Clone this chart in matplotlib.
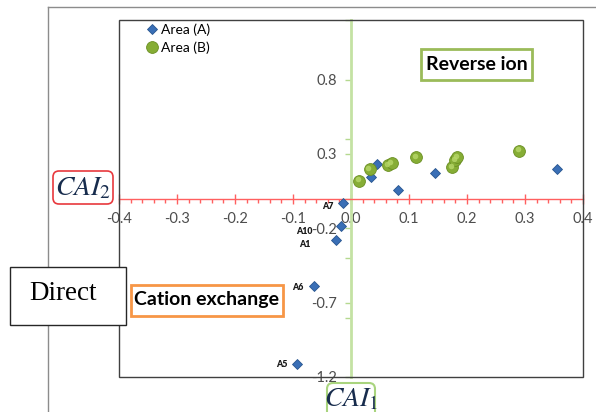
import numpy as np
import matplotlib
matplotlib.use("Agg")
import matplotlib.pyplot as plt
from matplotlib.patches import Rectangle, FancyBboxPatch
from matplotlib.lines import Line2D
from matplotlib.transforms import IdentityTransform, offset_copy
from matplotlib.ticker import MultipleLocator, FixedLocator

plt.rcParams['axes.unicode_minus'] = False
plt.rcParams['mathtext.fontset'] = 'stix'

# CAI indices, area A (samples A1..A10)
a_names = ['A1', 'A2', 'A3', 'A4', 'A5', 'A6', 'A7', 'A8', 'A9', 'A10']
a_cai1 = [-0.026, 0.044, 0.034, 0.081, -0.093, -0.064, -0.013, 0.144, 0.356, -0.017]
a_cai2 = [-0.28, 0.233, 0.144, 0.057, -1.11, -0.59, -0.03, 0.169, 0.20, -0.187]
a_shown = ['A1', 'A5', 'A6', 'A7', 'A10']

# CAI indices, area B
b_cai1 = [0.014, 0.032, 0.064, 0.070, 0.112, 0.174, 0.180, 0.183, 0.290]
b_cai2 = [0.120, 0.200, 0.222, 0.240, 0.280, 0.209, 0.257, 0.277, 0.322]

x_ticks = [-0.4, -0.3, -0.2, -0.1, 0.0, 0.1, 0.2, 0.3, 0.4]
x_ticklabels = ['-0.4', '-0.3', '-0.2', '-0.1', '0.0', '0.1', '0.2', '0.3', '0.4']
y_ticks = [-1.2, -0.7, -0.2, 0.3, 0.8]
y_ticklabels = ['-1.2', '-0.7', '-0.2', '0.3', '0.8']

W, H = 596, 412
fig = plt.figure(figsize=(W / 100, H / 100), dpi=100)
ax = fig.add_axes([119 / W, 1 - 377 / H, 464 / W, 357 / H])

px = IdentityTransform()


def py(y):
    # pixel rows counted from the top
    return H - y


# outer chart frame
fig.add_artist(Line2D([48, 48], [py(7), 0], transform=px, color='#8c8c8c', lw=1))
fig.add_artist(Line2D([48, W], [py(7), py(7)], transform=px, color='#8c8c8c', lw=1))

ax.set_xlim(-0.4, 0.4)
ax.set_ylim(-1.2, 1.2)

# axes crossing at zero
for s in ['top', 'right']:
    ax.spines[s].set_visible(False)
ax.spines['left'].set_position(('data', 0))
ax.spines['bottom'].set_position(('data', 0))
ax.spines['left'].set_color('#c4e2a4')
ax.spines['left'].set_linewidth(2)
ax.spines['bottom'].set_color('#ff6060')
ax.spines['bottom'].set_linewidth(1)
ax.add_patch(Rectangle((0, 0), 1, 1, transform=ax.transAxes, fill=False,
                       ec='#404040', lw=1, zorder=3, clip_on=False))

ax.xaxis.set_major_locator(FixedLocator(x_ticks))
ax.set_xticklabels(x_ticklabels)
ax.xaxis.set_minor_locator(MultipleLocator(0.02))
ax.yaxis.set_major_locator(FixedLocator(y_ticks))
ax.set_yticklabels(y_ticklabels)
ax.yaxis.set_minor_locator(MultipleLocator(0.4))

ax.tick_params(axis='x', which='major', direction='inout', length=7, width=1,
               color='#ff6060', labelsize=10.5, labelcolor='#4d4d4d', pad=6)
ax.tick_params(axis='x', which='minor', direction='out', length=3, width=1, color='#ff6060')
ax.tick_params(axis='y', which='both', direction='out', length=4, width=1,
               color='#b5d98f', labelsize=10.5, labelcolor='#4d4d4d', pad=6)
for lab in ax.get_xticklabels() + ax.get_yticklabels():
    lab.set_fontfamily('Lato')

# data
ax.plot(a_cai1, a_cai2, ls='none', marker='D', ms=5.6, mfc='#3a6fb6', mec='#28558f',
        mew=0.6, zorder=6, label='Area (A)')
ax.plot(b_cai1, b_cai2, ls='none', marker='o', ms=8.5, mfc='#86ad35', mec='#6a8f22',
        mew=0.6, zorder=6, label='Area (B)')
hl = offset_copy(ax.transData, fig=fig, x=-1.2, y=1.2, units='dots')
ax.plot(b_cai1, b_cai2, ls='none', marker='o', ms=4, mfc='#b8d86a', mec='none',
        alpha=0.8, zorder=7, transform=hl)

label_offsets = {'A1': (-25, -4), 'A5': (-10, -1), 'A6': (-10, -1),
                 'A7': (-10, -4), 'A10': (-29, -5)}
for name, x, y in zip(a_names, a_cai1, a_cai2):
    if name in a_shown:
        ax.annotate(name, (x, y), xytext=label_offsets[name], textcoords='offset pixels',
                    ha='right', va='center', fontsize=6.3, fontweight='heavy',
                    fontfamily='Lato', color='#1a1a1a', zorder=8)

ax.legend(loc='upper left', bbox_to_anchor=(0.06, 0.99), frameon=False,
          borderaxespad=0, borderpad=0, handlelength=0.7, handletextpad=0.3,
          labelspacing=0.35, prop={'family': 'Lato', 'size': 10})

# zone captions
fig.add_artist(Rectangle((421, py(80)), 111, 31, transform=px, fc='white',
                         ec='#9bbb59', lw=2, zorder=10))
fig.text(476.5, py(64.5), 'Reverse ion', transform=px, ha='center', va='center',
         fontsize=14, fontweight='bold', fontfamily='Lato', color='black', zorder=11)

fig.add_artist(Rectangle((131, py(316)), 152, 31, transform=px, fc='white',
                         ec='#f79646', lw=2, zorder=10))
fig.text(207, py(300), 'Cation exchange', transform=px, ha='center', va='center',
         fontsize=14, fontweight='bold', fontfamily='Lato', color='black', zorder=11)

fig.add_artist(Rectangle((10, py(325)), 116, 58, transform=px, fc='white',
                         ec='#262626', lw=1, zorder=10))
fig.text(63, py(294), 'Direct', transform=px, ha='center', va='center',
         fontsize=19.5, fontfamily='Liberation Serif', color='black', zorder=11)

# axis titles
fig.add_artist(FancyBboxPatch((53, py(204)), 60, 33, transform=px,
                              boxstyle='round,pad=0,rounding_size=6',
                              fc='white', ec='#e8383d', lw=1.2, zorder=10))
fig.text(83, py(187), r'$CAI_2$', transform=px, ha='center', va='center',
         fontsize=20, color='#172c4d', zorder=11)

fig.add_artist(FancyBboxPatch((327, py(418)), 48, 35, transform=px,
                              boxstyle='round,pad=0,rounding_size=6',
                              fc='white', ec='#a9d47e', lw=1.5, zorder=10))
fig.text(351, py(398), r'$CAI_1$', transform=px, ha='center', va='center',
         fontsize=20, color='#172c4d', zorder=11)

fig.savefig('out.png', dpi=100)
